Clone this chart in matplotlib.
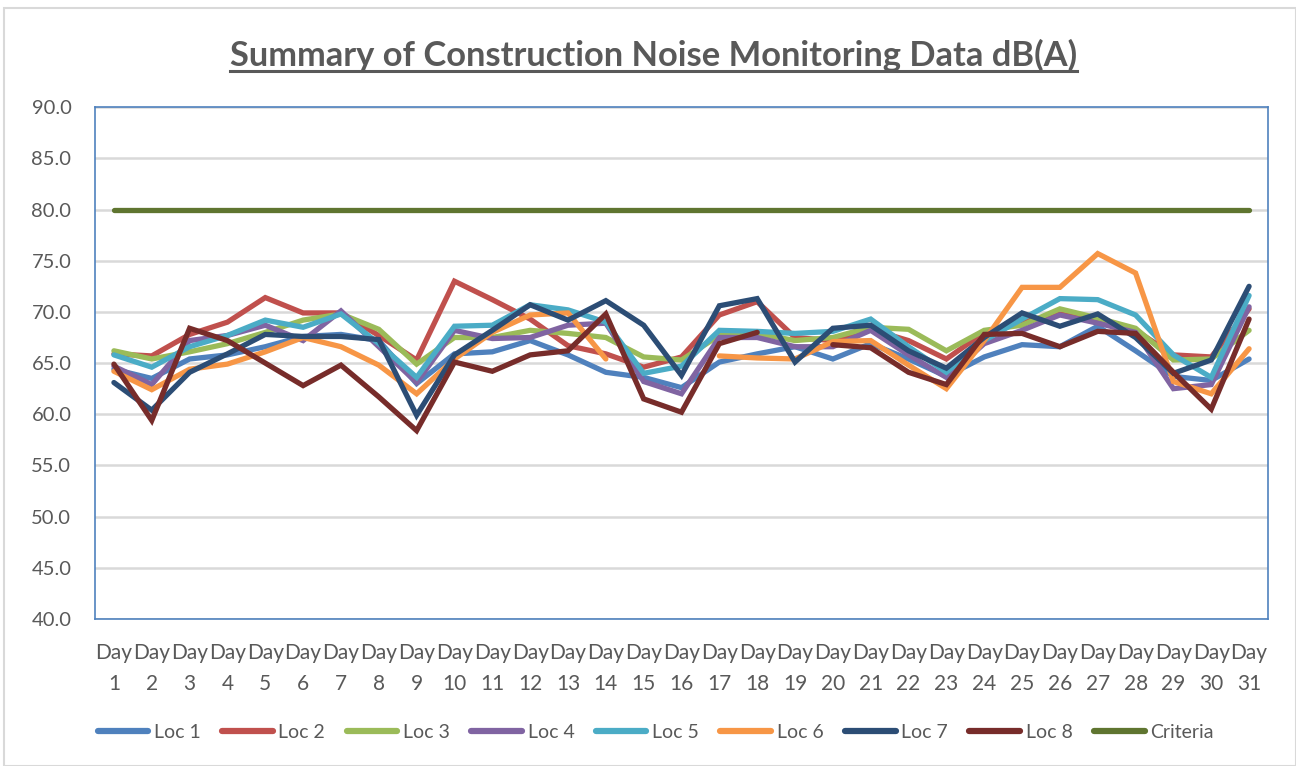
import numpy as np
import matplotlib
matplotlib.use("Agg")
import matplotlib.pyplot as plt
from matplotlib.lines import Line2D
from matplotlib.patches import Rectangle

nan = np.nan

days = [f"Day\n{d}" for d in range(1, 32)]

loc1 = [64.4, 63.5, 65.4, 65.8, 66.6, 67.6, 67.8, 67.2, 63.0, 65.9,
        66.1, 67.2, 65.8, 64.1, 63.6, 62.6, 65.1, 65.9, 66.6, 65.4,
        66.9, 65.4, 63.7, 65.6, 66.8, 66.6, 68.6, 66.2, 63.7, 63.3, 65.4]
loc2 = [65.9, 65.7, 67.8, 69.0, 71.4, 69.9, 69.9, 67.7, 65.3, 73.0,
        71.2, 69.3, 66.7, 65.9, 64.6, 65.6, 69.7, 71.0, 67.5, 67.2,
        68.3, 67.2, 65.4, 68.0, 69.0, 69.8, 69.2, 68.2, 65.8, 65.6, 70.3]
loc3 = [66.2, 65.4, 66.1, 66.9, 68.0, 69.2, 69.8, 68.3, 64.9, 67.5,
        67.5, 68.2, 67.9, 67.5, 65.6, 65.3, 67.7, 67.9, 67.2, 67.5,
        68.5, 68.3, 66.2, 68.2, 68.7, 70.3, 69.4, 68.4, 65.3, 65.4, 68.2]
loc4 = [64.7, 62.9, 67.2, 67.7, 68.7, 67.2, 70.1, 66.6, 63.1, 68.2,
        67.4, 67.5, 68.7, 68.9, 63.2, 62.0, 67.5, 67.5, 66.6, 66.6,
        68.2, 65.8, 63.6, 66.9, 68.2, 69.7, 68.9, 68.0, 62.5, 62.9, 70.5]
loc5 = [65.8, 64.6, 66.6, 67.7, 69.2, 68.5, 69.8, 66.9, 63.6, 68.6,
        68.7, 70.7, 70.2, 69.0, 64.0, 64.7, 68.2, 68.1, 67.9, 68.1,
        69.3, 66.6, 64.1, 67.2, 69.3, 71.3, 71.2, 69.7, 65.8, 63.6, 71.6]
loc6 = [64.2, 62.4, 64.4, 64.9, 66.1, 67.5, 66.6, 64.8, 62.0, 65.4,
        68.0, 69.7, 69.9, 65.4, nan, nan, 65.7, 65.5, 65.4, 67.1,
        67.2, 64.8, 62.5, 67.2, 72.4, 72.4, 75.7, 73.8, 63.2, 62.0, 66.4]
loc7 = [63.1, 60.4, 64.1, 65.9, 67.8, 67.6, 67.6, 67.3, 59.9, 65.8,
        68.2, 70.7, 69.2, 71.1, 68.7, 63.8, 70.6, 71.3, 65.1, 68.4,
        68.7, 66.2, 64.5, 67.5, 69.9, 68.6, 69.8, 67.5, 64.0, 65.3, 72.5]
loc8 = [64.9, 59.4, 68.4, 67.2, 65.0, 62.8, 64.8, 61.7, 58.4, 65.1,
        64.2, 65.8, 66.2, 69.8, 61.5, 60.2, 66.9, 68.0, nan, 66.8,
        66.5, 64.1, 62.9, 67.8, 67.9, 66.6, 68.1, 67.9, 64.1, 60.5, 69.3]
criteria = [80.0] * 31

series = [
    ("Loc 1", loc1, "#4F81BD"),
    ("Loc 2", loc2, "#C0504D"),
    ("Loc 3", loc3, "#9BBB59"),
    ("Loc 4", loc4, "#8064A2"),
    ("Loc 5", loc5, "#4BACC6"),
    ("Loc 6", loc6, "#F79646"),
    ("Loc 7", loc7, "#2C4D75"),
    ("Loc 8", loc8, "#772C2A"),
    ("Criteria", criteria, "#5F7530"),
]

TEXT_COLOR = "#595959"
plt.rcParams["font.family"] = ["Lato", "DejaVu Sans"]

W, H = 1296, 766
fig = plt.figure(figsize=(W / 100, H / 100), dpi=100)
ax = fig.add_axes([0.0733, 0.192, 0.9051, 0.668])

x = np.arange(len(days))
for name, vals, color in series:
    ax.plot(x, vals, color=color, lw=3.8, label=name, solid_capstyle="round",
            solid_joinstyle="miter")

ax.set_xlim(-0.5, len(days) - 0.5)
ax.set_ylim(40, 90)
yt = np.arange(40, 90.1, 5)
ax.set_yticks(yt)
ax.set_yticklabels([f"{v:.1f}" for v in yt])
ax.set_xticks(x)
ax.set_xticklabels(days, linespacing=1.7)
ax.tick_params(length=0, labelsize=14.5, colors=TEXT_COLOR)
ax.tick_params(axis="y", pad=17)
ax.tick_params(axis="x", pad=17, labelsize=15)
ax.yaxis.grid(True, color="#D9D9D9", lw=1.8)
ax.set_axisbelow(True)
for sp in ax.spines.values():
    sp.set_color("#4F81BD")
    sp.set_linewidth(1.2)

leg = ax.legend(loc="center", ncol=9, frameon=False, fontsize=14,
                handlelength=2.6, handletextpad=0.3, columnspacing=1.1)
leg.set_bbox_to_anchor((0.506, 0.044), transform=fig.transFigure)
for line in leg.get_lines():
    line.set_linewidth(4.5)
for t in leg.get_texts():
    t.set_color(TEXT_COLOR)

title = fig.text(0.504, 1 - 66 / H, "Summary of Construction Noise Monitoring Data dB(A)",
                 ha="center", va="baseline", fontsize=24, fontweight="bold",
                 color=TEXT_COLOR)

# fit title to the reference width, then underline it
fig.canvas.draw()
bb = title.get_window_extent()
title.set_fontsize(24 * 848 / bb.width)
fig.canvas.draw()
bb = title.get_window_extent().transformed(fig.transFigure.inverted())
uy = 1 - 71 / H
fig.add_artist(Line2D([bb.x0, bb.x1], [uy, uy], color=TEXT_COLOR, lw=2.2,
                      transform=fig.transFigure))

# chart area border
fig.add_artist(Rectangle((0.003, 0.0), 0.997, 0.99, transform=fig.transFigure,
                         fill=False, edgecolor="#D9D9D9", lw=1.5))

fig.savefig("out.png", dpi=100)
